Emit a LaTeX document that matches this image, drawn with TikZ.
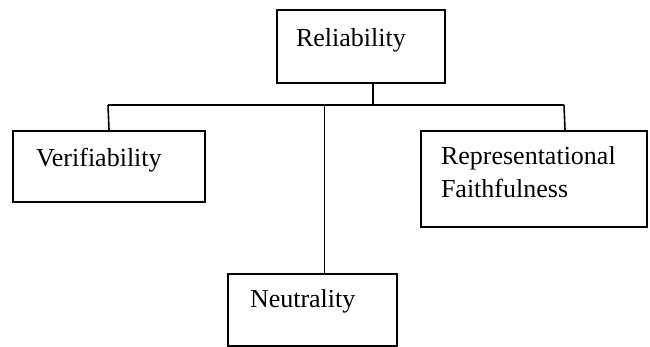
\documentclass[tikz,border=0pt]{standalone}
\usepackage{fontspec}
\setmainfont{Liberation Serif}

\begin{document}
\begin{tikzpicture}[x=1pt,y=-1pt]
					\tikzstyle{every node}=[font=\fontsize{26}{33}\selectfont]
					\tikzstyle{box}=[draw, line width=2pt, anchor=north west, align=left, inner ysep=0pt]
					\tikzstyle{link}=[line width=1.6pt]
					\useasboundingbox (0,0) rectangle (650,346);
					\node[box, inner xsep=19pt, text width=130pt, text height=36pt, text depth=37pt] (rel) at (276,9) {Reliability};
					\node[box, inner xsep=23pt, text width=146pt, text height=35pt, text depth=36pt] (veri) at (12,130) {Verifiability};
					\node[box, inner xsep=20pt, text width=186pt, text height=33pt, text depth=63pt] (repf) at (420,130) {Representational\\Faithfulness};
					\node[box, inner xsep=22pt, text width=125pt, text height=33pt, text depth=39pt] (neut) at (227,273) {Neutrality};
					\coordinate (busL) at (108,105);
					\coordinate (busR) at (564,105);
					\draw[link] (busL) -- (busR);
					\draw[link] ([xshift=12pt]rel.south) -- ([xshift=12pt]rel.south |- busL);
					\draw[link] (veri.north) -- (busL);
					\draw[link] ([xshift=31pt]repf.north) -- (busR);
					\draw[link] ([xshift=12pt]neut.north) -- ([xshift=12pt]neut.north |- busL);
\end{tikzpicture}
\end{document}
